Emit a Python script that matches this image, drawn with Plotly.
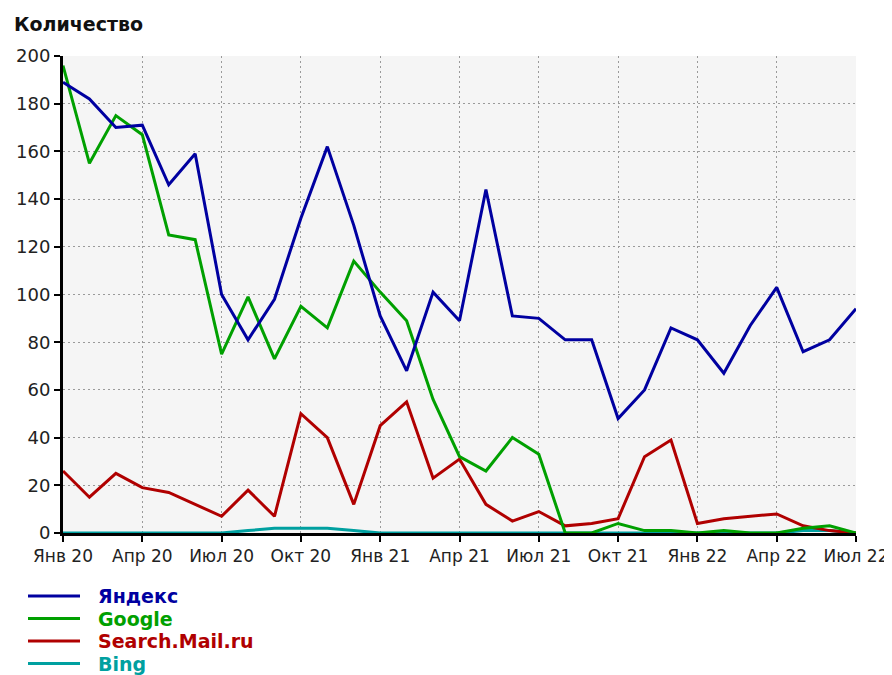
import plotly.graph_objects as go

months = ["Янв 20", "Фев 20", "Мар 20", "Апр 20", "Май 20", "Июн 20", "Июл 20", "Авг 20", "Сен 20", "Окт 20", "Ноя 20", "Дек 20",
          "Янв 21", "Фев 21", "Мар 21", "Апр 21", "Май 21", "Июн 21", "Июл 21", "Авг 21", "Сен 21", "Окт 21", "Ноя 21", "Дек 21",
          "Янв 22", "Фев 22", "Мар 22", "Апр 22", "Май 22", "Июн 22", "Июл 22"]
tick_labels = ["Янв 20", "Апр 20", "Июл 20", "Окт 20", "Янв 21", "Апр 21", "Июл 21", "Окт 21", "Янв 22", "Апр 22", "Июл 22"]

yandex = [189, 182, 170, 171, 146, 159, 100, 81, 98, 132, 162, 129, 91, 68, 101, 89, 144, 91, 90, 81, 81, 48, 60, 86, 81, 67, 87, 103, 76, 81, 94]
google = [196, 155, 175, 167, 125, 123, 75, 99, 73, 95, 86, 114, 101, 89, 56, 32, 26, 40, 33, 0, 0, 4, 1, 1, 0, 1, 0, 0, 2, 3, 0]
mail = [26, 15, 25, 19, 17, 12, 7, 18, 7, 50, 40, 12, 45, 55, 23, 31, 12, 5, 9, 3, 4, 6, 32, 39, 4, 6, 7, 8, 3, 1, 0]
bing = [0, 0, 0, 0, 0, 0, 0, 1, 2, 2, 2, 1, 0, 0, 0, 0, 0, 0, 0, 0, 0, 0, 0, 0, 0, 0, 0, 0, 1, 1, 0]

series_names = ["Яндекс", "Google", "Search.Mail.ru", "Bing"]
series_values = [yandex, google, mail, bing]
series_colors = ["#0000a0", "#00a000", "#b00000", "#00a0a0"]

FONT = "DejaVu Sans"
W, H = 884, 667               # page body adds an 8px offset
L, R, T, B = 55, 36, 48, 142
PW, PH = W - L - R, H - T - B


def px_x(px):
    return (px - L) / PW


def px_y(py):
    return (H - B - py) / PH


fig = go.Figure()
# draw order: Bing first, Yandex last (on top)
for name, vals, color in reversed(list(zip(series_names, series_values, series_colors))):
    fig.add_trace(go.Scatter(
        x=months, y=vals, mode="lines", line=dict(color=color, width=3),
        name=name, showlegend=False, hoverinfo="skip",
    ))

shapes = []
annotations = [dict(text="<b>Количество</b>", xref="paper", yref="paper",
                    x=px_x(4), y=px_y(16), xanchor="left", yanchor="middle",
                    showarrow=False, font=dict(family=FONT, size=19, color="#111111"))]
# legend (below the chart)
for i, (name, color) in enumerate(zip(series_names, series_colors)):
    yc = 588 + 22.5 * i
    shapes.append(dict(type="line", xref="paper", yref="paper",
                       x0=px_x(20), x1=px_x(72), y0=px_y(yc), y1=px_y(yc),
                       line=dict(color=color, width=3)))
    annotations.append(dict(text=f"<b>{name}</b>", xref="paper", yref="paper",
                            x=px_x(88), y=px_y(yc), xanchor="left", yanchor="middle",
                            showarrow=False,
                            font=dict(family=FONT, size=19, color=color)))

fig.update_layout(
    width=W, height=H,
    margin=dict(l=L, r=R, t=T, b=B, autoexpand=False),
    paper_bgcolor="white", plot_bgcolor="#f5f5f5",
    font=dict(family=FONT, size=16, color="#222222"),
    showlegend=False,
    shapes=shapes, annotations=annotations,
)

fig.update_xaxes(
    type="category", categoryorder="array", categoryarray=months,
    range=[0, len(months) - 1], automargin=False,
    tickmode="array", tickvals=tick_labels, ticktext=tick_labels,
    showline=True, linecolor="black", linewidth=3,
    ticks="outside", ticklen=6, tickwidth=2, tickcolor="black",
    showgrid=True, gridcolor="#9a9a9a", gridwidth=1, griddash="2px,3px",
    zeroline=False, tickfont=dict(family=FONT, size=17, color="#222222"),
)
fig.update_yaxes(
    range=[0, 200], tickmode="linear", tick0=0, dtick=20, automargin=False,
    showline=True, linecolor="black", linewidth=3,
    ticks="outside", ticklen=6, tickwidth=2, tickcolor="black",
    showgrid=True, gridcolor="#9a9a9a", gridwidth=1, griddash="2px,3px",
    zeroline=False, tickfont=dict(family=FONT, size=18, color="#222222"),
)

fig.write_html("out.html")
